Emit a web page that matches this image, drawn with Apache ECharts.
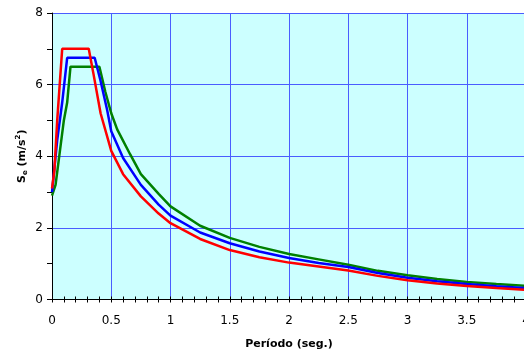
<!DOCTYPE html>
<html>
<head>
<meta charset="utf-8">
<script src="https://cdn.jsdelivr.net/npm/echarts@6/dist/echarts.min.js"></script>
<style>html,body{margin:0;padding:0;background:#fff}#c{width:524px;height:358px}</style>
</head>
<body>
<div id="c"></div>
<script>
// Period (s) and spectral acceleration Se (m/s^2)
var periodRed = [0, 0.02, 0.044, 0.086, 0.31, 0.35, 0.41, 0.5, 0.6, 0.75, 0.9, 1.0, 1.25, 1.5, 1.75, 2.0, 2.25, 2.5, 2.75, 3.0, 3.25, 3.5, 3.75, 4.0];
var seRed     = [3.1, 3.6, 5.0, 7.0, 7.0, 6.3, 5.2, 4.15, 3.5, 2.88, 2.4, 2.13, 1.69, 1.38, 1.18, 1.03, 0.92, 0.81, 0.66, 0.54, 0.45, 0.38, 0.32, 0.27];

var periodBlue = [0, 0.044, 0.086, 0.128, 0.36, 0.41, 0.465, 0.5, 0.6, 0.75, 0.9, 1.0, 1.25, 1.5, 1.75, 2.0, 2.25, 2.5, 2.75, 3.0, 3.25, 3.5, 3.75, 4.0];
var seBlue     = [3.0, 4.45, 5.5, 6.75, 6.75, 6.1, 5.3, 4.7, 3.95, 3.2, 2.65, 2.34, 1.87, 1.57, 1.34, 1.16, 1.02, 0.91, 0.74, 0.61, 0.51, 0.43, 0.37, 0.32];

var periodGreen = [0, 0.03, 0.1, 0.128, 0.156, 0.4, 0.45, 0.5, 0.55, 0.66, 0.75, 0.9, 1.0, 1.25, 1.5, 1.75, 2.0, 2.25, 2.5, 2.75, 3.0, 3.25, 3.5, 3.75, 4.0];
var seGreen     = [2.9, 3.2, 5.0, 5.5, 6.5, 6.5, 5.8, 5.2, 4.75, 4.05, 3.5, 2.95, 2.6, 2.06, 1.72, 1.47, 1.27, 1.12, 0.97, 0.8, 0.68, 0.57, 0.49, 0.43, 0.38];

var xTicks = [0, 0.5, 1, 1.5, 2, 2.5, 3, 3.5, 4];
var yTicks = [0, 2, 4, 6, 8];

function pairs(xs, ys) { return xs.map(function (x, i) { return [x, ys[i]]; }); }

var FONT = 'DejaVu Sans';
var chart = echarts.init(document.getElementById('c'), null, {renderer: 'canvas'});
chart.setOption({
  animation: false,
  grid: {left: 52, top: 13, right: -2, bottom: 58.5, show: true, backgroundColor: '#ccffff', borderWidth: 0,
         containLabel: false, outerBoundsMode: 'none'},
  xAxis: [{
    type: 'value', min: xTicks[0], max: xTicks[xTicks.length - 1], interval: 0.5,
    name: 'Período (seg.)', nameLocation: 'middle', nameGap: 39, nameMoveOverlap: false,
    nameTextStyle: {fontFamily: FONT, fontSize: 11, fontWeight: 'bold', color: '#000'},
    axisLine: {show: true, lineStyle: {color: '#000', width: 1}},
    axisTick: {show: true, length: 3, lineStyle: {color: '#000'}},
    minorTick: {show: true, splitNumber: 5, length: 3, lineStyle: {color: '#000'}},
    axisLabel: {fontFamily: FONT, fontSize: 12, color: '#000', margin: 15, showMinLabel: true, showMaxLabel: true},
    splitLine: {show: true, lineStyle: {color: '#4a5cff', width: 1}}
  }, {
    type: 'value', min: 0, max: 4, interval: 0.1, position: 'bottom',
    axisLine: {show: false}, axisLabel: {show: false}, splitLine: {show: false},
    axisTick: {show: true, inside: true, length: 3, lineStyle: {color: '#000'}}
  }],
  yAxis: {
    type: 'value', min: yTicks[0], max: yTicks[yTicks.length - 1], interval: 2,
    name: '{a|S}{s|e}{a| (m/s}{p|2}{a|)}', nameLocation: 'middle', nameGap: 23, nameRotate: 90, nameMoveOverlap: false,
    nameTextStyle: {
      fontFamily: FONT, fontSize: 11, fontWeight: 'bold', color: '#000',
      rich: {
        a: {fontFamily: FONT, fontSize: 11, fontWeight: 'bold', color: '#000', lineHeight: 14},
        s: {fontFamily: FONT, fontSize: 7, fontWeight: 'bold', color: '#000', lineHeight: 14, verticalAlign: 'bottom'},
        p: {fontFamily: FONT, fontSize: 7, fontWeight: 'bold', color: '#000', lineHeight: 14, verticalAlign: 'top'}
      }
    },
    axisLine: {show: true, lineStyle: {color: '#000', width: 1}},
    axisTick: {show: true, length: 5, lineStyle: {color: '#000'}},
    minorTick: {show: true, splitNumber: 2, length: 5, lineStyle: {color: '#000'}},
    axisLabel: {fontFamily: FONT, fontSize: 12, color: '#000', margin: 9},
    splitLine: {show: true, lineStyle: {color: '#4a5cff', width: 1}}
  },
  series: [
    {type: 'line', data: pairs(periodGreen, seGreen), showSymbol: false, lineStyle: {color: '#008000', width: 2.5}, z: 3},
    {type: 'line', data: pairs(periodBlue, seBlue), showSymbol: false, lineStyle: {color: '#0000ff', width: 2.5}, z: 4},
    {type: 'line', data: pairs(periodRed, seRed), showSymbol: false, lineStyle: {color: '#ff0000', width: 2.5}, z: 5}
  ]
});
</script>
</body>
</html>
